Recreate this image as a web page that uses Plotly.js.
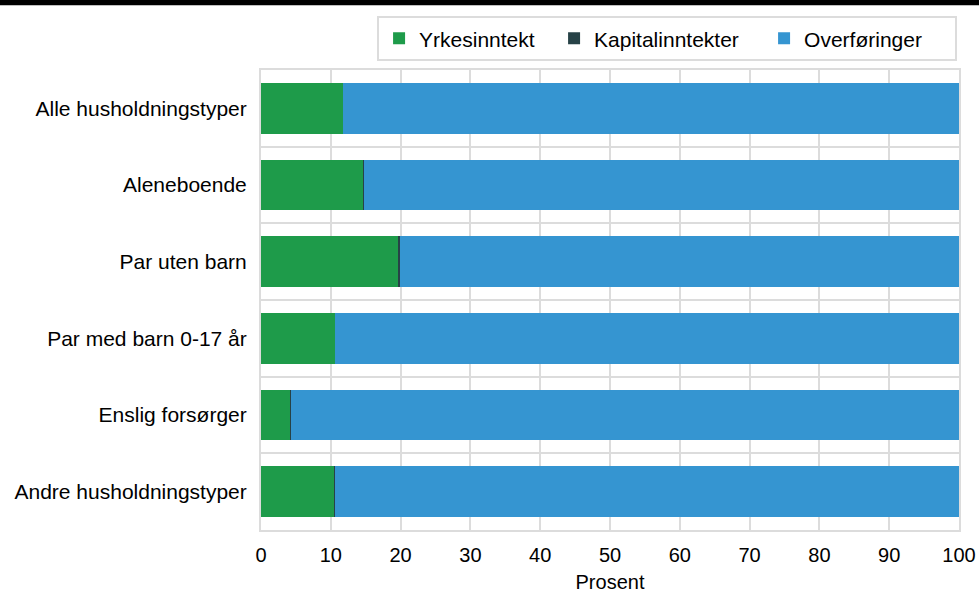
<!DOCTYPE html>
<html>
<head>
<meta charset="utf-8">
<script src="https://cdn.plot.ly/plotly-3.0.1.min.js"></script>
<style>html,body{margin:0;padding:0;background:#fff}#chart{width:979px;height:596px}</style>
</head>
<body>
<div id="chart"></div>
<script>
const categories = ["Alle husholdningstyper", "Aleneboende", "Par uten barn", "Par med barn 0-17 år", "Enslig forsørger", "Andre husholdningstyper"];
const yrkesinntekt = [11.7, 14.6, 19.6, 10.6, 4.2, 10.5];
const kapitalinntekter = [0.05, 0.1, 0.3, 0.05, 0.1, 0.05];
const overforinger = [88.25, 85.3, 80.1, 89.35, 95.7, 89.45];
const seriesNames = ["Yrkesinntekt", "Kapitalinntekter", "Overføringer"];
const xTicks = [0, 10, 20, 30, 40, 50, 60, 70, 80, 90, 100];

const colors = ["#1e9b4a", "#274247", "#3595d1"];
const legendWidths = [130, 165, 146];
const font = {family: "Liberation Sans, Arial, sans-serif", size: 20, color: "#000"};
const catFont = {family: "Liberation Sans, Arial, sans-serif", size: 21, color: "#000"};

const data = [yrkesinntekt, kapitalinntekter, overforinger].map((vals, i) => ({
  type: "bar", orientation: "h", name: seriesNames[i],
  y: categories, x: vals,
  marker: {color: colors[i], line: {width: 0}},
  legendwidth: legendWidths[i],
  hoverinfo: "x+y+name"
}));

const layout = {
  width: 979, height: 596,
  margin: {l: 261, r: 20, t: 70, b: 66, autoexpand: false},
  barmode: "stack", bargap: 0.34,
  font: font,
  paper_bgcolor: "#fff", plot_bgcolor: "#fff",
  showlegend: true,
  legend: {
    orientation: "h", x: 0.1663, xanchor: "left", y: 1.117, yanchor: "top",
    bordercolor: "#dcdcdc", borderwidth: 2,
    font: catFont, traceorder: "normal", itemwidth: 30
  },
  xaxis: {
    range: [0, 100], tickvals: xTicks, ticktext: xTicks.map(String),
    showgrid: true, gridcolor: "#dcdcdc", gridwidth: 2,
    zeroline: false, showline: true, linecolor: "#dcdcdc", linewidth: 2, mirror: true,
    ticks: "", ticklen: 0, tickfont: font, ticklabelstandoff: 6,
    title: {text: "Prosent", font: font, standoff: 10}
  },
  yaxis: {
    autorange: "reversed", type: "category",
    tickson: "boundaries", showgrid: true, gridcolor: "#dcdcdc", gridwidth: 2,
    showline: true, linecolor: "#dcdcdc", linewidth: 2, mirror: true,
    ticks: "", ticklen: 0, tickfont: catFont, ticklabelstandoff: 8
  },
  shapes: [{type: "rect", xref: "paper", yref: "paper", x0: -0.4, x1: 1.1, y0: 1.141, y1: 1.16, fillcolor: "#000", line: {width: 0}}]
};

Plotly.newPlot("chart", data, layout, {displayModeBar: false, staticPlot: true});
</script>
</body>
</html>
